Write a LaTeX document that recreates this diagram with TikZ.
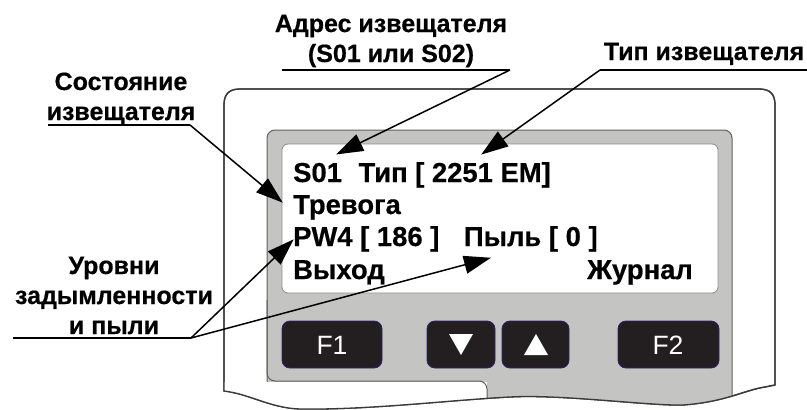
\documentclass[tikz,border=0pt]{standalone}
\usepackage{fontspec}
\setmainfont[BoldFeatures={FakeBold=0.5}]{Liberation Sans}
\usetikzlibrary{arrows.meta}
\definecolor{panelgray}{HTML}{C4C4C2}
\definecolor{edge}{HTML}{3A3A3A}
\definecolor{btn}{HTML}{231F20}
\definecolor{btnedge}{HTML}{2A2270}
\newcommand{\housingpath}{(224,391) -- (224,105) .. controls (224,94) and (229,89) .. (240,89) -- (759,89) .. controls (770,89) and (775,94) .. (775,105) -- (775,385) -- (765,387) .. controls (745,390) and (725,402) .. (683,405) .. controls (650,406) and (560,394) .. (510,397) .. controls (450,400) and (370,410) .. (300,409) .. controls (270,408) and (250,394) .. (224,391) -- cycle}
\tikzset{
  x=1pt,y=-1pt,
  housing/.style={draw=edge,line width=1.3pt,fill=white},
  panel/.style={draw=edge!80,line width=1pt,fill=panelgray},
  screen/.style={draw=gray!90,line width=0.8pt,fill=white},
  btnbox/.style={draw=btnedge,line width=0.8pt,fill=btn,rounded corners=8pt},
  btnlabel/.style={text=white,font=\fontsize{26.5}{26.5}\selectfont,inner sep=0pt,anchor=base},
  lcd/.style={font=\fontsize{27.4}{27.4}\selectfont\bfseries,inner sep=0pt,anchor=base west},
  callout/.style={font=\fontsize{25}{25}\selectfont\bfseries,inner sep=0pt,anchor=base},
  rule/.style={draw=black,line width=1.5pt},
  arrowline/.style={draw=black,line width=1.5pt,-{Triangle[length=27pt,width=18pt]},shorten >=-1pt},
}
\begin{document}
\begin{tikzpicture}
\useasboundingbox (0,0) rectangle (807,410);
\fill[white] (0,0) rectangle (807,410);
% housing
\path[housing] \housingpath;
\begin{scope}
  \clip \housingpath;
  \path[panel,rounded corners=8pt] (267,430) -- (267,130) -- (732,130) -- (732,430) -- cycle;
  \fill[white] (200,381.5) -- (487,381.5) -- (487,420) -- (200,420) -- cycle;
  \path[panel,draw=none] (268,300) rectangle (486,375);
  \draw[edge!80,line width=1pt,rounded corners=8pt] (267,300) -- (267,381) -- (487,381) -- (487,420);
\end{scope}
\path[housing,fill=none] \housingpath;
\path[screen,rounded corners=6pt] (282,144) rectangle (718,293);
% buttons
\path[btnbox] (282,321) rectangle (382,368);
\path[btnbox] (427,321) rectangle (495,368);
\path[btnbox] (502,321) rectangle (569,368);
\path[btnbox] (618,321) rectangle (719,368);
\node[btnlabel] (f1) at (332,354) {F1};
\node[btnlabel] (f2) at (668,354) {F2};
\fill[white] (449,334) -- (473,334) -- (461,355) -- cycle;
\fill[white] (524,355) -- (548,355) -- (536,334) -- cycle;
% screen text
\node[lcd] (l1) at (293,182) {S01\hspace{9pt} Тип [ 2251 ЕМ]};
\node[lcd] (l2) at (293,214) {Тревога};
\node[lcd] (l3) at (293,246) {PW4 [ 186 ]\hspace{17pt} Пыль [ 0 ]};
\node[lcd] (l4) at (293,279) {Выход};
\node[lcd,anchor=base east] (l5) at (693,279) {Журнал};
% callouts
\node[callout] (addr1) at (391,32) {Адрес извещателя};
\node[callout] (addr2) at (391,62) {(S01 или S02)};
\node[callout] (type) at (704,60) {Тип извещателя};
\node[callout] (state1) at (121,90) {Состояние};
\node[callout] (state2) at (121,120) {извещателя};
\node[callout] (lev1) at (114,274) {Уровни};
\node[callout] (lev2) at (114,304) {задымленности};
\node[callout] (lev3) at (114,334) {и пыли};
% leader rules and arrows
\coordinate (a0) at (282,70);
\coordinate (a1) at (510,70);
\coordinate (at) at (337,154);
\coordinate (b0) at (807,70);
\coordinate (b1) at (600,70);
\coordinate (bt) at (482,154);
\coordinate (c0) at (48,125);
\coordinate (c1) at (190,125);
\coordinate (ct) at (282,202);
\coordinate (d0) at (13,338);
\coordinate (d1) at (191,338);
\coordinate (dt) at (293,240);
\coordinate (et) at (490,258);
\draw[rule] (a0) -- (a1);
\draw[rule] (b0) -- (b1);
\draw[rule] (c0) -- (c1);
\draw[rule] (d0) -- (d1);
\draw[arrowline] (a1) -- (at);
\draw[arrowline] (b1) -- (bt);
\draw[arrowline] (c1) -- (ct);
\draw[arrowline] (d1) -- (dt);
\draw[arrowline] (d1) -- (et);
\end{tikzpicture}
\end{document}
